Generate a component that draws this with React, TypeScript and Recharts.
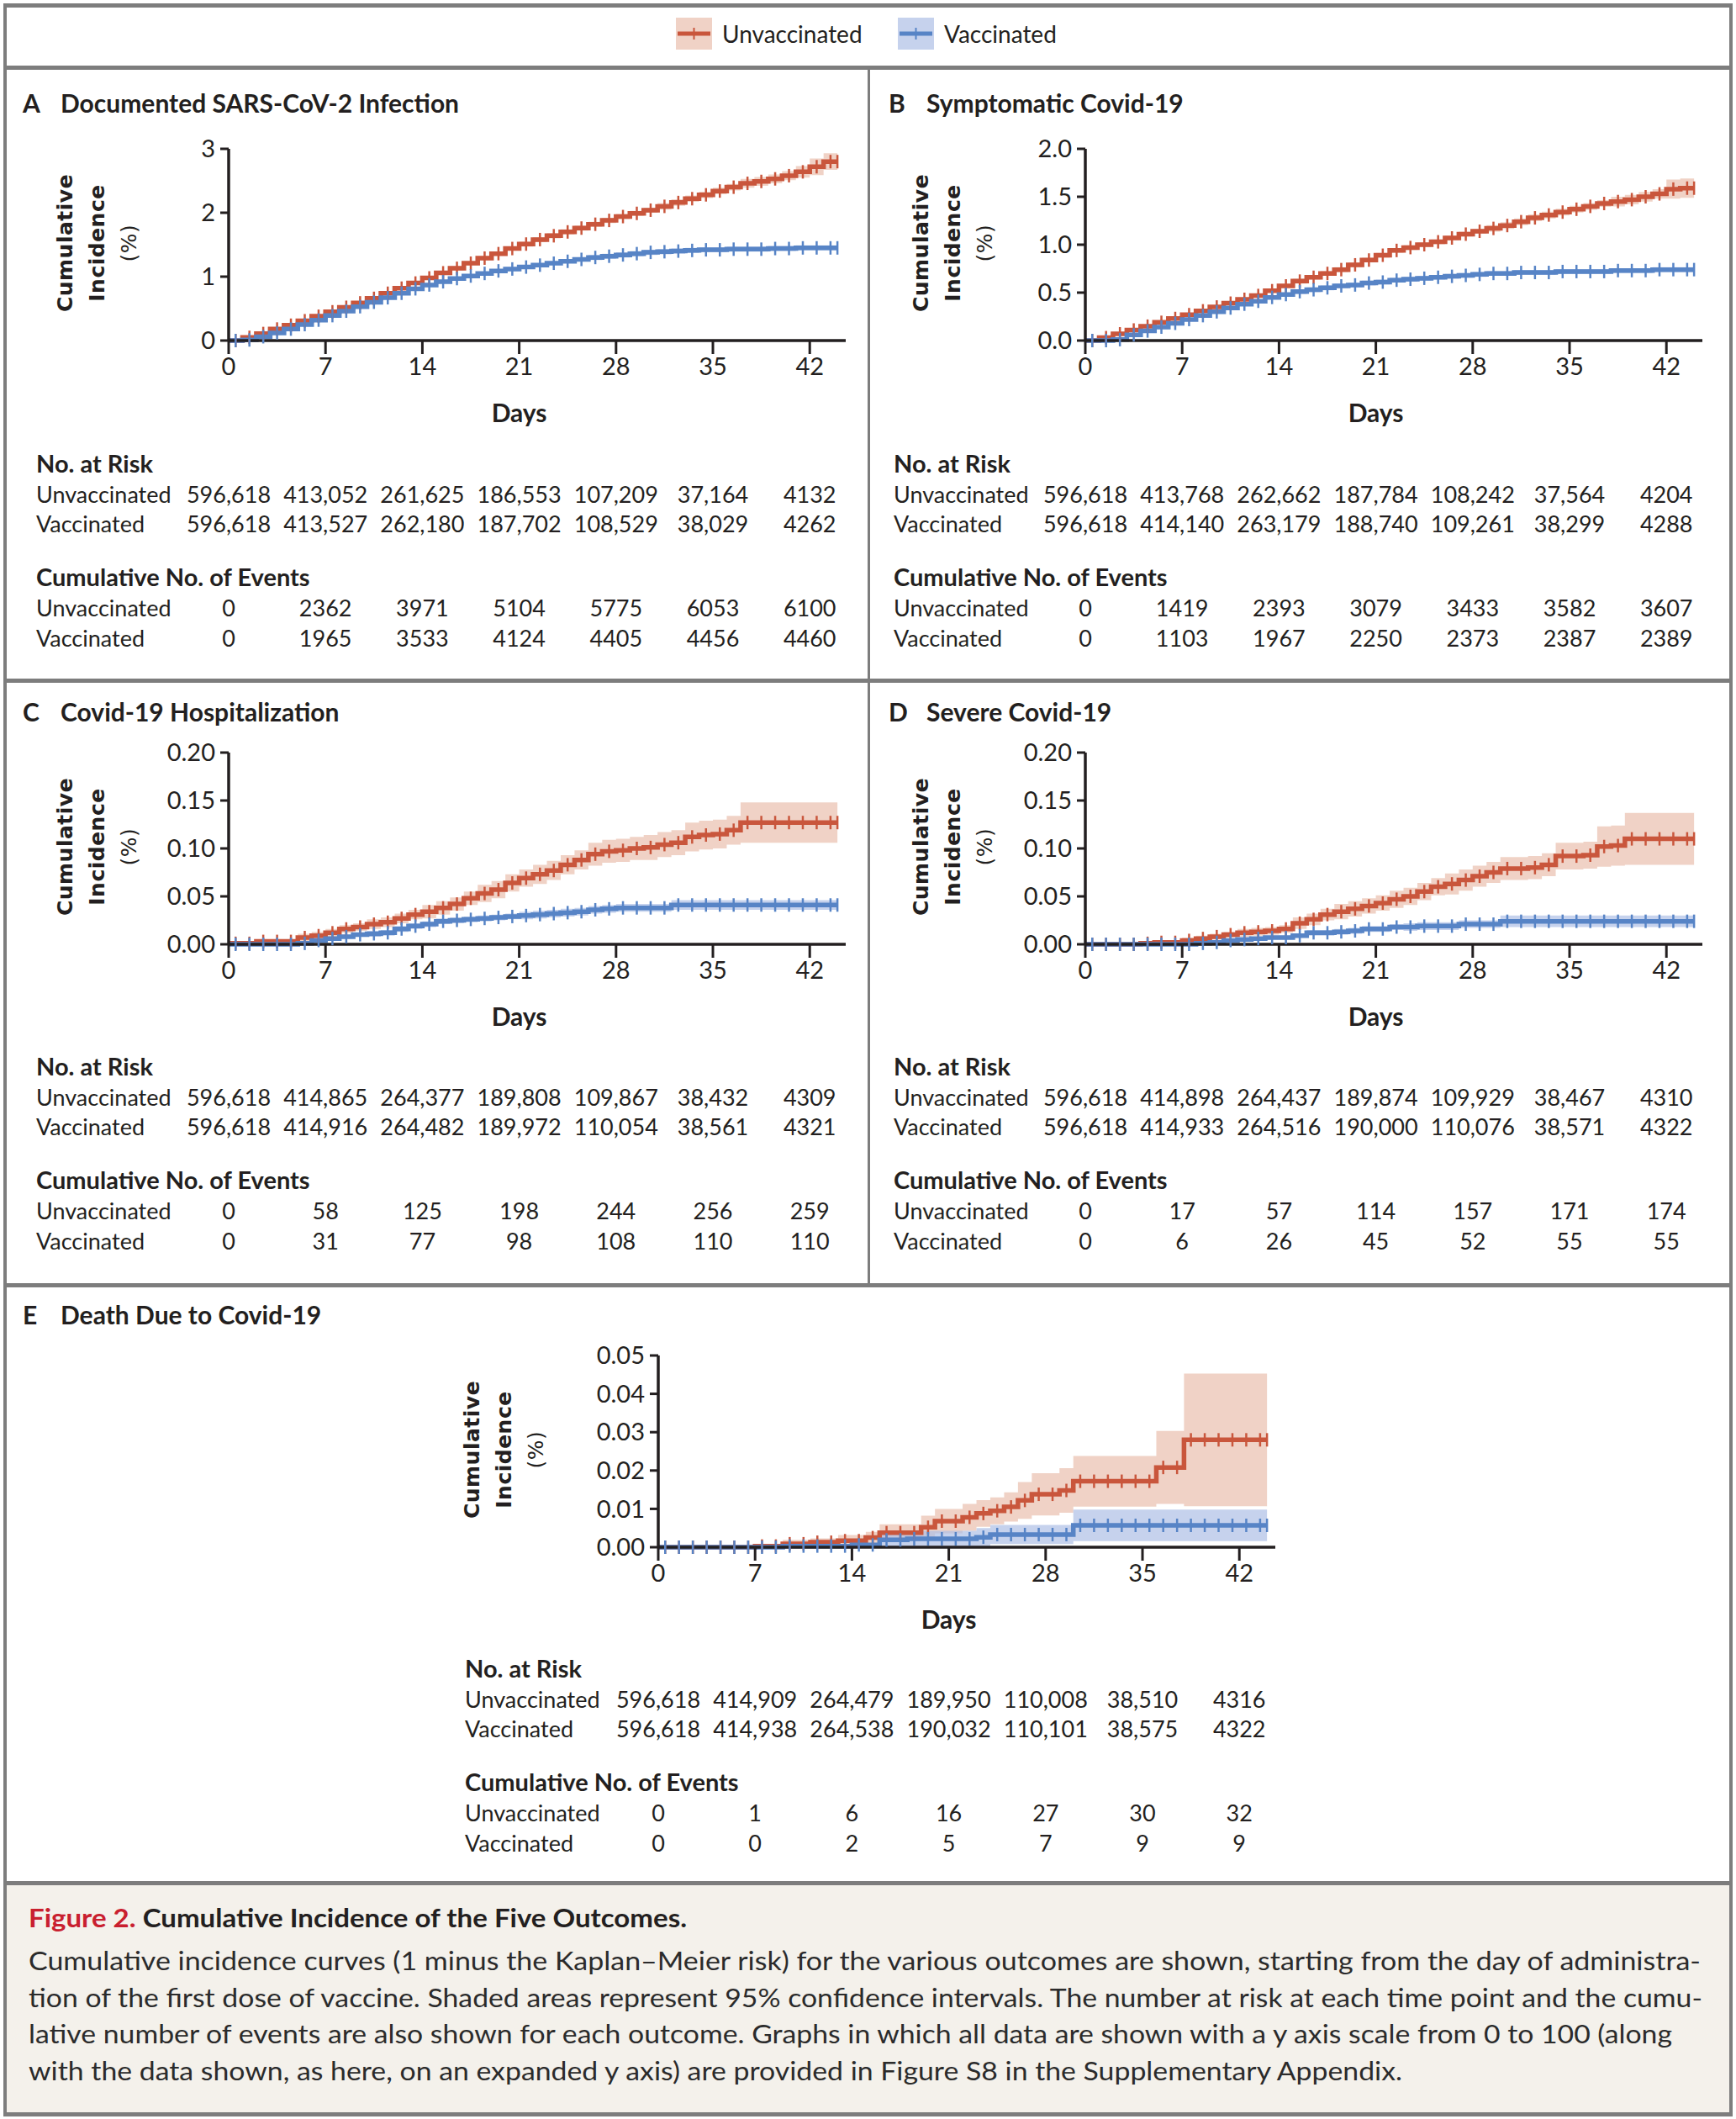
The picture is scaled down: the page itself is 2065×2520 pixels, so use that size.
import React from 'react';
import { ComposedChart, Area, Line, XAxis, YAxis } from 'recharts';

// x axis (days) shared by all panels
const X_TICKS = [0, 7, 14, 21, 28, 35, 42];
const X_MAX = 44.6;

// A  Documented SARS-CoV-2 infection (cumulative incidence, %)
const A_UNVAX = [0, 0.05, 0.11, 0.18, 0.24, 0.31, 0.38, 0.45, 0.52, 0.59, 0.66, 0.74, 0.82, 0.9, 0.98, 1.06, 1.13, 1.21, 1.29, 1.36, 1.44, 1.51, 1.58, 1.64, 1.7, 1.76, 1.82, 1.88, 1.94, 1.99, 2.04, 2.1, 2.16, 2.22, 2.28, 2.34, 2.4, 2.46, 2.49, 2.53, 2.58, 2.64, 2.72, 2.8, 2.8];
const A_UNVAX_CI = [0.02, 0.02, 0.02, 0.02, 0.02, 0.02, 0.02, 0.02, 0.02, 0.02, 0.02, 0.03, 0.03, 0.03, 0.03, 0.03, 0.03, 0.03, 0.03, 0.03, 0.03, 0.04, 0.04, 0.04, 0.04, 0.04, 0.04, 0.04, 0.04, 0.04, 0.04, 0.05, 0.05, 0.05, 0.05, 0.05, 0.05, 0.07, 0.07, 0.07, 0.07, 0.09, 0.13, 0.13, 0.13];
const A_VAX = [0, 0.01, 0.06, 0.12, 0.18, 0.25, 0.32, 0.39, 0.46, 0.53, 0.6, 0.67, 0.74, 0.81, 0.87, 0.92, 0.97, 1.01, 1.05, 1.09, 1.12, 1.15, 1.18, 1.21, 1.24, 1.27, 1.3, 1.32, 1.34, 1.36, 1.38, 1.39, 1.4, 1.41, 1.42, 1.42, 1.43, 1.43, 1.43, 1.44, 1.44, 1.45, 1.45, 1.45, 1.45];
const A_VAX_CI = [0.02, 0.02, 0.02, 0.02, 0.02, 0.02, 0.02, 0.02, 0.02, 0.02, 0.02, 0.03, 0.03, 0.03, 0.03, 0.03, 0.03, 0.03, 0.03, 0.03, 0.03, 0.03, 0.03, 0.03, 0.03, 0.03, 0.04, 0.04, 0.04, 0.04, 0.04, 0.04, 0.04, 0.04, 0.04, 0.04, 0.04, 0.04, 0.04, 0.04, 0.04, 0.04, 0.04, 0.04, 0.04];

// B  Symptomatic Covid-19
const B_UNVAX = [0, 0.03, 0.07, 0.11, 0.15, 0.19, 0.23, 0.27, 0.31, 0.35, 0.39, 0.43, 0.47, 0.52, 0.57, 0.62, 0.66, 0.7, 0.74, 0.79, 0.84, 0.89, 0.94, 0.97, 1.0, 1.03, 1.07, 1.11, 1.14, 1.17, 1.2, 1.24, 1.28, 1.31, 1.34, 1.37, 1.4, 1.43, 1.45, 1.47, 1.5, 1.53, 1.58, 1.59, 1.59];
const B_UNVAX_CI = [0.015, 0.015, 0.015, 0.015, 0.015, 0.015, 0.015, 0.015, 0.015, 0.015, 0.015, 0.015, 0.015, 0.015, 0.015, 0.025, 0.025, 0.025, 0.025, 0.025, 0.025, 0.025, 0.025, 0.025, 0.025, 0.025, 0.025, 0.025, 0.025, 0.035, 0.035, 0.035, 0.035, 0.035, 0.035, 0.035, 0.035, 0.035, 0.05, 0.05, 0.05, 0.05, 0.1, 0.1, 0.1];
const B_VAX = [0, 0, 0.01, 0.06, 0.1, 0.14, 0.18, 0.22, 0.26, 0.3, 0.34, 0.38, 0.41, 0.45, 0.48, 0.51, 0.53, 0.55, 0.57, 0.58, 0.6, 0.61, 0.63, 0.64, 0.65, 0.66, 0.67, 0.68, 0.69, 0.7, 0.7, 0.71, 0.71, 0.71, 0.72, 0.72, 0.72, 0.72, 0.73, 0.73, 0.73, 0.74, 0.74, 0.74, 0.74];
const B_VAX_CI = [0.015, 0.015, 0.015, 0.015, 0.015, 0.015, 0.015, 0.015, 0.015, 0.015, 0.015, 0.015, 0.015, 0.015, 0.015, 0.025, 0.025, 0.025, 0.025, 0.025, 0.025, 0.025, 0.025, 0.025, 0.025, 0.025, 0.025, 0.025, 0.025, 0.025, 0.025, 0.025, 0.025, 0.025, 0.025, 0.025, 0.025, 0.025, 0.025, 0.025, 0.025, 0.025, 0.025, 0.025, 0.025];

// C  Covid-19 hospitalization
const C_UNVAX = [0.001, 0.001, 0.003, 0.003, 0.003, 0.007, 0.009, 0.012, 0.016, 0.018, 0.021, 0.023, 0.027, 0.031, 0.034, 0.038, 0.042, 0.048, 0.053, 0.057, 0.064, 0.069, 0.073, 0.077, 0.083, 0.088, 0.094, 0.097, 0.098, 0.1, 0.101, 0.104, 0.106, 0.112, 0.114, 0.115, 0.119, 0.127, 0.127, 0.127, 0.127, 0.127, 0.127, 0.127, 0.127];
const C_UNVAX_CI = [0.002, 0.002, 0.002, 0.002, 0.002, 0.004, 0.004, 0.004, 0.004, 0.004, 0.005, 0.005, 0.005, 0.005, 0.007, 0.007, 0.007, 0.007, 0.009, 0.009, 0.009, 0.009, 0.01, 0.01, 0.01, 0.01, 0.012, 0.012, 0.012, 0.012, 0.013, 0.013, 0.013, 0.015, 0.015, 0.015, 0.015, 0.021, 0.021, 0.021, 0.021, 0.021, 0.021, 0.021, 0.021];
const C_VAX = [0, 0, 0, 0, 0, 0.001, 0.004, 0.006, 0.008, 0.01, 0.011, 0.012, 0.016, 0.019, 0.021, 0.024, 0.025, 0.026, 0.027, 0.028, 0.029, 0.03, 0.031, 0.032, 0.033, 0.034, 0.036, 0.037, 0.038, 0.038, 0.038, 0.038, 0.041, 0.041, 0.041, 0.041, 0.041, 0.041, 0.041, 0.041, 0.041, 0.041, 0.041, 0.041, 0.041];
const C_VAX_CI = [0.002, 0.002, 0.002, 0.002, 0.002, 0.002, 0.002, 0.002, 0.002, 0.002, 0.003, 0.003, 0.003, 0.003, 0.003, 0.003, 0.003, 0.003, 0.003, 0.003, 0.003, 0.004, 0.004, 0.004, 0.004, 0.004, 0.004, 0.004, 0.004, 0.004, 0.004, 0.004, 0.005, 0.005, 0.005, 0.005, 0.005, 0.005, 0.005, 0.005, 0.005, 0.005, 0.005, 0.005, 0.005];

// D  Severe Covid-19
const D_UNVAX = [0, 0, 0, 0, 0.001, 0.002, 0.002, 0.004, 0.006, 0.008, 0.01, 0.012, 0.013, 0.014, 0.016, 0.022, 0.026, 0.031, 0.034, 0.037, 0.04, 0.043, 0.047, 0.05, 0.055, 0.06, 0.063, 0.067, 0.071, 0.075, 0.079, 0.079, 0.08, 0.083, 0.092, 0.092, 0.093, 0.102, 0.103, 0.11, 0.11, 0.11, 0.11, 0.11, 0.11];
const D_UNVAX_CI = [0.001, 0.001, 0.001, 0.001, 0.001, 0.001, 0.001, 0.003, 0.003, 0.003, 0.003, 0.004, 0.004, 0.004, 0.004, 0.006, 0.006, 0.006, 0.008, 0.008, 0.008, 0.008, 0.009, 0.009, 0.009, 0.009, 0.011, 0.011, 0.011, 0.011, 0.012, 0.012, 0.012, 0.012, 0.014, 0.014, 0.014, 0.021, 0.021, 0.027, 0.027, 0.027, 0.027, 0.027, 0.027];
const D_VAX = [0, 0, 0, 0, 0, 0, 0, 0, 0.001, 0.002, 0.004, 0.005, 0.006, 0.007, 0.007, 0.009, 0.012, 0.012, 0.013, 0.014, 0.016, 0.016, 0.018, 0.018, 0.019, 0.019, 0.019, 0.021, 0.021, 0.021, 0.024, 0.024, 0.024, 0.024, 0.024, 0.024, 0.024, 0.024, 0.024, 0.024, 0.024, 0.024, 0.024, 0.024, 0.024];
const D_VAX_CI = [0.001, 0.001, 0.001, 0.001, 0.001, 0.001, 0.001, 0.001, 0.001, 0.001, 0.002, 0.002, 0.002, 0.002, 0.002, 0.002, 0.003, 0.003, 0.003, 0.003, 0.003, 0.003, 0.003, 0.004, 0.004, 0.004, 0.004, 0.004, 0.004, 0.004, 0.006, 0.006, 0.006, 0.006, 0.006, 0.006, 0.006, 0.006, 0.006, 0.006, 0.006, 0.006, 0.006, 0.006, 0.006];

// E  Death due to Covid-19
const E_UNVAX = [0, 0, 0, 0, 0, 0, 0, 0.0003, 0.0003, 0.0009, 0.0009, 0.0013, 0.0013, 0.0017, 0.0017, 0.0025, 0.0038, 0.0038, 0.0038, 0.0052, 0.0068, 0.0068, 0.0078, 0.0088, 0.0095, 0.0105, 0.0122, 0.0138, 0.0138, 0.0148, 0.0172, 0.0172, 0.0172, 0.0172, 0.0172, 0.0172, 0.0208, 0.0208, 0.028, 0.028, 0.028, 0.028, 0.028, 0.028, 0.028];
const E_UNVAX_CI = [0.0002, 0.0002, 0.0002, 0.0002, 0.0002, 0.0002, 0.0002, 0.0004, 0.0004, 0.001, 0.001, 0.001, 0.001, 0.0015, 0.0015, 0.0015, 0.0022, 0.0022, 0.0022, 0.003, 0.0032, 0.0032, 0.0035, 0.0035, 0.0035, 0.0038, 0.0048, 0.0055, 0.0055, 0.0058, 0.0066, 0.0066, 0.0066, 0.0066, 0.0066, 0.0066, 0.0095, 0.0095, 0.0173, 0.0173, 0.0173, 0.0173, 0.0173, 0.0173, 0.0173];
const E_VAX = [0, 0, 0, 0, 0, 0, 0, 0, 0, 0.0003, 0.0003, 0.0003, 0.0003, 0.0003, 0.0006, 0.0006, 0.0019, 0.0019, 0.0022, 0.0022, 0.0022, 0.0022, 0.0022, 0.0026, 0.0033, 0.0033, 0.0033, 0.0033, 0.0033, 0.0033, 0.0057, 0.0057, 0.0057, 0.0057, 0.0057, 0.0057, 0.0057, 0.0057, 0.0057, 0.0057, 0.0057, 0.0057, 0.0057, 0.0057, 0.0057];
const E_VAX_CI = [0.0002, 0.0002, 0.0002, 0.0002, 0.0002, 0.0002, 0.0002, 0.0002, 0.0002, 0.0005, 0.0005, 0.0005, 0.0005, 0.0005, 0.0005, 0.0005, 0.0021, 0.0021, 0.0021, 0.0021, 0.0021, 0.0021, 0.0021, 0.0024, 0.0025, 0.0025, 0.0025, 0.0025, 0.0025, 0.0025, 0.0041, 0.0041, 0.0041, 0.0041, 0.0041, 0.0041, 0.0041, 0.0041, 0.0041, 0.0041, 0.0041, 0.0041, 0.0041, 0.0041, 0.0041];

// risk tables
const A_RISK_U = ['596,618', '413,052', '261,625', '186,553', '107,209', '37,164', '4132'];
const A_RISK_V = ['596,618', '413,527', '262,180', '187,702', '108,529', '38,029', '4262'];
const A_EV_U = ['0', '2362', '3971', '5104', '5775', '6053', '6100'];
const A_EV_V = ['0', '1965', '3533', '4124', '4405', '4456', '4460'];
const B_RISK_U = ['596,618', '413,768', '262,662', '187,784', '108,242', '37,564', '4204'];
const B_RISK_V = ['596,618', '414,140', '263,179', '188,740', '109,261', '38,299', '4288'];
const B_EV_U = ['0', '1419', '2393', '3079', '3433', '3582', '3607'];
const B_EV_V = ['0', '1103', '1967', '2250', '2373', '2387', '2389'];
const C_RISK_U = ['596,618', '414,865', '264,377', '189,808', '109,867', '38,432', '4309'];
const C_RISK_V = ['596,618', '414,916', '264,482', '189,972', '110,054', '38,561', '4321'];
const C_EV_U = ['0', '58', '125', '198', '244', '256', '259'];
const C_EV_V = ['0', '31', '77', '98', '108', '110', '110'];
const D_RISK_U = ['596,618', '414,898', '264,437', '189,874', '109,929', '38,467', '4310'];
const D_RISK_V = ['596,618', '414,933', '264,516', '190,000', '110,076', '38,571', '4322'];
const D_EV_U = ['0', '17', '57', '114', '157', '171', '174'];
const D_EV_V = ['0', '6', '26', '45', '52', '55', '55'];
const E_RISK_U = ['596,618', '414,909', '264,479', '189,950', '110,008', '38,510', '4316'];
const E_RISK_V = ['596,618', '414,938', '264,538', '190,032', '110,101', '38,575', '4322'];
const E_EV_U = ['0', '1', '6', '16', '27', '30', '32'];
const E_EV_V = ['0', '0', '2', '5', '7', '9', '9'];

const RED = '#c9563c';
const RED_BAND = '#e9bfae';
const BLUE = '#5784c6';
const BLUE_BAND = '#aebfe6';
const INK = '#231f20';
const FRAME = '#7d7d7d';
const FONT = 'Lato, "Open Sans", "Noto Sans", sans-serif';

// plot geometry (px)
const PLOT_W = 734;
const PLOT_H = 228;
const PAD_L = 110;
const PAD_T = 20;
const PAD_R = 20;
const PAD_B = 60;
const DAY_PX = PLOT_W / X_MAX;

const buildRows = (u: number[], uCi: number[], v: number[], vCi: number[]) =>
  u.map((val, i) => ({
    day: i,
    u: val,
    uBand: [Math.max(0, val - uCi[i]), val + uCi[i]],
    v: v[i],
    vBand: [Math.max(0, v[i] - vCi[i]), v[i] + vCi[i]],
  }));

const censorTick = (color: string, last: number) => (props: any) => {
  const { cx, cy, index } = props;
  if (cx == null || cy == null) return <g key={`c-${index}`} />;
  const x = index < last ? cx + DAY_PX / 2 : cx;
  return (
    <line key={`c-${index}`} x1={x} x2={x} y1={cy - 8} y2={cy + 8} stroke={color} strokeWidth={2.5} />
  );
};

const Txt = ({ x, y, children, size = 27, weight = 400, anchor = 'start', color = INK }: any) => (
  <div
    style={{
      position: 'absolute',
      left: x,
      top: y,
      transform: `translate(${anchor === 'middle' ? '-50%' : '0'}, -50%)`,
      fontSize: size,
      fontWeight: weight,
      fontFamily: FONT,
      color,
      whiteSpace: 'nowrap',
      lineHeight: 1,
    }}
  >
    {children}
  </div>
);

const KMChart = ({ left, top, rows, yMax, yTicks, yFmt }: any) => (
  <div style={{ position: 'absolute', left: left - PAD_L, top: top - PAD_T }}>
    <ComposedChart
      width={PAD_L + PLOT_W + PAD_R}
      height={PAD_T + PLOT_H + PAD_B}
      data={rows}
      margin={{ top: PAD_T, right: PAD_R, bottom: 0, left: 0 }}
    >
      <XAxis
        dataKey="day"
        type="number"
        domain={[0, X_MAX]}
        ticks={X_TICKS}
        height={PAD_B}
        tickSize={16}
        tickMargin={4}
        axisLine={{ stroke: INK, strokeWidth: 3.5 }}
        tickLine={{ stroke: INK, strokeWidth: 3 }}
        tick={{ fill: INK, fontSize: 29, fontFamily: FONT }}
      />
      <YAxis
        type="number"
        domain={[0, yMax]}
        ticks={yTicks}
        width={PAD_L}
        tickFormatter={yFmt}
        tickSize={10}
        tickMargin={6}
        axisLine={{ stroke: INK, strokeWidth: 3.5 }}
        tickLine={{ stroke: INK, strokeWidth: 3 }}
        tick={{ fill: INK, fontSize: 29, fontFamily: FONT }}
      />
      <Area type="stepAfter" dataKey="uBand" stroke="none" fill={RED_BAND} fillOpacity={0.7} isAnimationActive={false} />
      <Area type="stepAfter" dataKey="vBand" stroke="none" fill={BLUE_BAND} fillOpacity={0.7} isAnimationActive={false} />
      <Line type="stepAfter" dataKey="u" stroke={RED} strokeWidth={5.5} dot={censorTick(RED, rows.length - 1)} activeDot={false} isAnimationActive={false} />
      <Line type="stepAfter" dataKey="v" stroke={BLUE} strokeWidth={5.5} dot={censorTick(BLUE, rows.length - 1)} activeDot={false} isAnimationActive={false} />
    </ComposedChart>
  </div>
);

const YTitle = ({ x, y }: any) => (
  <div
    style={{
      position: 'absolute',
      left: x,
      top: y,
      transform: 'translate(-50%, -50%) rotate(-90deg)',
      textAlign: 'center',
      fontFamily: '"DejaVu Sans", sans-serif',
      fontSize: 25,
      lineHeight: '38px',
      color: INK,
      whiteSpace: 'nowrap',
      letterSpacing: 0.5,
    }}
  >
    <div style={{ fontWeight: 700 }}>Cumulative</div>
    <div style={{ fontWeight: 700 }}>Incidence</div>
    <div>(%)</div>
  </div>
);

const RiskTable = ({ labelX, plotLeft, top, riskU, riskV, evU, evV }: any) => {
  const col = (i: number) => plotLeft + X_TICKS[i] * DAY_PX;
  const row = (label: string, vals: string[], y: number) => (
    <>
      <Txt x={labelX} y={y}>{label}</Txt>
      {vals.map((s, i) => (
        <Txt key={`${label}-${y}-${i}`} x={col(i)} y={y} anchor="middle">{s}</Txt>
      ))}
    </>
  );
  return (
    <>
      <Txt x={labelX} y={top} size={29} weight={700}>No. at Risk</Txt>
      {row('Unvaccinated', riskU, top + 37)}
      {row('Vaccinated', riskV, top + 72)}
      <Txt x={labelX} y={top + 135} size={29} weight={700}>Cumulative No. of Events</Txt>
      {row('Unvaccinated', evU, top + 172)}
      {row('Vaccinated', evV, top + 208)}
    </>
  );
};

const Panel = ({ p }: any) => (
  <>
    <Txt x={p.letterX} y={p.titleY} size={30} weight={700}>{p.letter}</Txt>
    <Txt x={p.letterX + 45} y={p.titleY} size={30} weight={700}>{p.title}</Txt>
    <KMChart left={p.plotLeft} top={p.plotTop} rows={p.rows} yMax={p.yMax} yTicks={p.yTicks} yFmt={p.yFmt} />
    <YTitle x={p.plotLeft + p.yTitleDx} y={p.plotTop + PLOT_H / 2 - 2} />
    <Txt x={p.plotLeft + 21 * DAY_PX} y={p.plotTop + 313} size={30} weight={700} anchor="middle">Days</Txt>
    <RiskTable labelX={p.tableX} plotLeft={p.plotLeft} top={p.tableY} riskU={p.riskU} riskV={p.riskV} evU={p.evU} evV={p.evV} />
  </>
);

const fmt0 = (v: number) => `${v}`;
const fmt1 = (v: number) => v.toFixed(1);
const fmt2 = (v: number) => v.toFixed(2);

const PANELS = [
  {
    letter: 'A', title: 'Documented SARS-CoV-2 Infection', letterX: 27, titleY: 122,
    plotLeft: 272, plotTop: 177, yTitleDx: -156, tableX: 43, tableY: 550,
    rows: buildRows(A_UNVAX, A_UNVAX_CI, A_VAX, A_VAX_CI), yMax: 3, yTicks: [0, 1, 2, 3], yFmt: fmt0,
    riskU: A_RISK_U, riskV: A_RISK_V, evU: A_EV_U, evV: A_EV_V,
  },
  {
    letter: 'B', title: 'Symptomatic Covid-19', letterX: 1057, titleY: 122,
    plotLeft: 1291, plotTop: 177, yTitleDx: -157, tableX: 1063, tableY: 550,
    rows: buildRows(B_UNVAX, B_UNVAX_CI, B_VAX, B_VAX_CI), yMax: 2, yTicks: [0, 0.5, 1, 1.5, 2], yFmt: fmt1,
    riskU: B_RISK_U, riskV: B_RISK_V, evU: B_EV_U, evV: B_EV_V,
  },
  {
    letter: 'C', title: 'Covid-19 Hospitalization', letterX: 27, titleY: 846,
    plotLeft: 272, plotTop: 895, yTitleDx: -156, tableX: 43, tableY: 1267,
    rows: buildRows(C_UNVAX, C_UNVAX_CI, C_VAX, C_VAX_CI), yMax: 0.2, yTicks: [0, 0.05, 0.1, 0.15, 0.2], yFmt: fmt2,
    riskU: C_RISK_U, riskV: C_RISK_V, evU: C_EV_U, evV: C_EV_V,
  },
  {
    letter: 'D', title: 'Severe Covid-19', letterX: 1057, titleY: 846,
    plotLeft: 1291, plotTop: 895, yTitleDx: -157, tableX: 1063, tableY: 1267,
    rows: buildRows(D_UNVAX, D_UNVAX_CI, D_VAX, D_VAX_CI), yMax: 0.2, yTicks: [0, 0.05, 0.1, 0.15, 0.2], yFmt: fmt2,
    riskU: D_RISK_U, riskV: D_RISK_V, evU: D_EV_U, evV: D_EV_V,
  },
  {
    letter: 'E', title: 'Death Due to Covid-19', letterX: 27, titleY: 1563,
    plotLeft: 783, plotTop: 1612, yTitleDx: -183, tableX: 553, tableY: 1983,
    rows: buildRows(E_UNVAX, E_UNVAX_CI, E_VAX, E_VAX_CI), yMax: 0.05, yTicks: [0, 0.01, 0.02, 0.03, 0.04, 0.05], yFmt: fmt2,
    riskU: E_RISK_U, riskV: E_RISK_V, evU: E_EV_U, evV: E_EV_V,
  },
];

const Rule = ({ x, y, w, h }: any) => (
  <div style={{ position: 'absolute', left: x, top: y, width: w, height: h, background: FRAME }} />
);

const Swatch = ({ x, line, band }: any) => (
  <svg style={{ position: 'absolute', left: x, top: 21 }} width={43} height={38}>
    <rect x={0} y={0} width={43} height={38} fill={band} fillOpacity={0.7} />
    <line x1={2} x2={41} y1={19} y2={19} stroke={line} strokeWidth={5} />
    <line x1={21.5} x2={21.5} y1={12} y2={26} stroke={line} strokeWidth={2} />
  </svg>
);

const CAPTION_LINES = [
  { text: 'Cumulative incidence curves (1 minus the Kaplan\u2013Meier risk) for the various outcomes are shown, starting from the day of administra-', w: 1989 },
  { text: 'tion of the first dose of vaccine. Shaded areas represent 95% confidence intervals. The number at risk at each time point and the cumu-', w: 1991 },
  { text: 'lative number of events are also shown for each outcome. Graphs in which all data are shown with a y axis scale from 0 to 100 (along', w: 1955 },
  { text: 'with the data shown, as here, on an expanded y axis) are provided in Figure S8 in the Supplementary Appendix.', w: 1634 },
];

const Caption = () => (
  <svg style={{ position: 'absolute', left: 0, top: 2239 }} width={2065} height={276}>
    <rect x={6} y={0} width={2053} height={276} fill="#f4f1eb" />
    <text x={34} y={53} fontFamily={FONT} fontSize={31} fontWeight={700} fill={INK} textLength={783} lengthAdjust="spacingAndGlyphs">
      <tspan fill="#c9202f">Figure 2.</tspan> Cumulative Incidence of the Five Outcomes.
    </text>
    {CAPTION_LINES.map((l, i) => (
      <text key={i} x={34} y={104 + i * 43.5} fontFamily={FONT} fontSize={31} fill="#2b2b2b" textLength={l.w} lengthAdjust="spacingAndGlyphs">
        {l.text}
      </text>
    ))}
  </svg>
);

export default function App() {
  return (
    <div style={{ position: 'absolute', left: 0, top: 0, width: 2065, height: 2520, background: '#fff', overflow: 'hidden' }}>
      <Caption />
      {/* legend */}
      <Swatch x={804} line={RED} band={RED_BAND} />
      <Txt x={859} y={40} size={28}>Unvaccinated</Txt>
      <Swatch x={1068} line={BLUE} band={BLUE_BAND} />
      <Txt x={1123} y={40} size={28}>Vaccinated</Txt>

      {PANELS.map((p) => (
        <Panel key={p.letter} p={p} />
      ))}

      {/* frame */}
      <Rule x={4} y={4} w={2057} h={5} />
      <Rule x={4} y={78} w={2057} h={5} />
      <Rule x={4} y={807} w={2057} h={5} />
      <Rule x={4} y={1526} w={2057} h={5} />
      <Rule x={4} y={2237} w={2057} h={5} />
      <Rule x={4} y={2512} w={2057} h={5} />
      <Rule x={4} y={4} w={4} h={2513} />
      <Rule x={2057} y={4} w={4} h={2513} />
      <Rule x={1032} y={80} w={3} h={1448} />
    </div>
  );
}
